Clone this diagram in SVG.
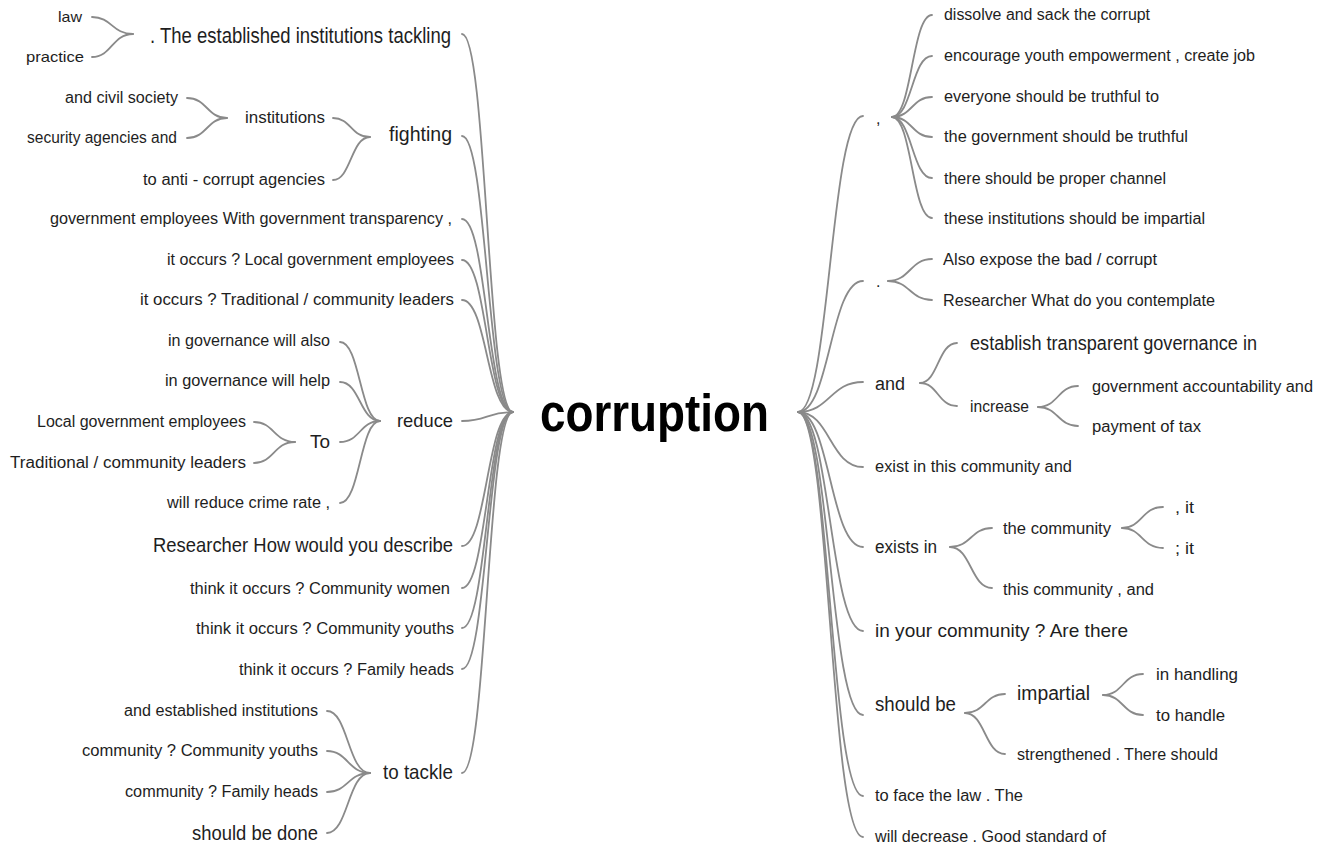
<svg xmlns="http://www.w3.org/2000/svg" width="1334" height="848" viewBox="0 0 1334 848">
  <style>
    text { font-family: "Liberation Sans", Arial, sans-serif; fill: #1e1e1e; }
    .s { font-size: 16px; }
    .m { font-size: 19px; }
    .l { font-size: 21px; }
    .root { font-size: 51px; font-weight: bold; fill: #000; }
    #links path { fill: none; stroke: #8a8a8a; stroke-width: 1.8; stroke-linecap: round; }
  </style>
  <rect width="1334" height="848" fill="#fff"/>

  <!-- connectors: cubic curves with horizontal tangents at both ends -->
  <g id="links">
    <!-- root to left branches -->
    <path d="M462,34 C487,34 487,412 513,412"/>
    <path d="M462,136 C487,136 487,412 513,412"/>
    <path d="M462,219 C487,219 487,412 513,412"/>
    <path d="M462,260 C487,260 487,412 513,412"/>
    <path d="M462,300 C487,300 487,412 513,412"/>
    <path d="M462,421 C487,421 487,412 513,412"/>
    <path d="M462,546 C487,546 487,412 513,412"/>
    <path d="M462,588 C487,588 487,412 513,412"/>
    <path d="M462,628 C487,628 487,412 513,412"/>
    <path d="M462,669 C487,669 487,412 513,412"/>
    <path d="M462,773 C487,773 487,412 513,412"/>
    <!-- left sub-branches -->
    <path d="M92,17 C112,17 112,34 133,34"/>
    <path d="M92,57 C112,57 112,34 133,34"/>
    <path d="M187,98 C207,98 207,118 227,118"/>
    <path d="M187,138 C207,138 207,118 227,118"/>
    <path d="M333,118 C351,118 351,137 370,137"/>
    <path d="M333,180 C351,180 351,137 370,137"/>
    <path d="M340,342 C360,342 360,421 380,421"/>
    <path d="M340,382 C360,382 360,421 380,421"/>
    <path d="M340,442 C360,442 360,421 380,421"/>
    <path d="M340,503 C360,503 360,421 380,421"/>
    <path d="M254,422 C274,422 274,442 295,442"/>
    <path d="M254,463 C274,463 274,442 295,442"/>
    <path d="M327,711 C348,711 348,773 370,773"/>
    <path d="M327,751 C348,751 348,773 370,773"/>
    <path d="M327,792 C348,792 348,773 370,773"/>
    <path d="M327,833 C348,833 348,773 370,773"/>
    <!-- root to right branches -->
    <path d="M798,412 C830,412 830,116 863,116"/>
    <path d="M798,412 C830,412 830,281 863,281"/>
    <path d="M798,412 C830,412 830,382 863,382"/>
    <path d="M798,412 C830,412 830,467 863,467"/>
    <path d="M798,412 C830,412 830,547 863,547"/>
    <path d="M798,412 C830,412 830,631 863,631"/>
    <path d="M798,412 C830,412 830,715 863,715"/>
    <path d="M798,412 C830,412 830,796 863,796"/>
    <path d="M798,412 C830,412 830,837 863,837"/>
    <!-- right sub-branches -->
    <path d="M892,117 C912,117 912,15 932,15"/>
    <path d="M892,117 C912,117 912,56 932,56"/>
    <path d="M892,117 C912,117 912,97 932,97"/>
    <path d="M892,117 C912,117 912,137 932,137"/>
    <path d="M892,117 C912,117 912,178 932,178"/>
    <path d="M892,117 C912,117 912,218 932,218"/>
    <path d="M888,281 C910,281 910,259 932,259"/>
    <path d="M888,281 C910,281 910,300 932,300"/>
    <path d="M920,383 C938,383 938,343 957,343"/>
    <path d="M920,383 C938,383 938,406 957,406"/>
    <path d="M1038,407 C1058,407 1058,386 1078,386"/>
    <path d="M1038,407 C1058,407 1058,426 1078,426"/>
    <path d="M950,547 C971,547 971,528 992,528"/>
    <path d="M950,547 C971,547 971,588 992,588"/>
    <path d="M1122,528 C1142,528 1142,507 1163,507"/>
    <path d="M1122,528 C1142,528 1142,548 1163,548"/>
    <path d="M965,713 C985,713 985,694 1005,694"/>
    <path d="M965,713 C985,713 985,754 1005,754"/>
    <path d="M1103,695 C1123,695 1123,674 1143,674"/>
    <path d="M1103,695 C1123,695 1123,715 1143,715"/>
  </g>

  <!-- central term -->
  <g id="node-root"><text class="root" x="540" y="431" textLength="229" lengthAdjust="spacingAndGlyphs">corruption</text></g>

  <!-- left side: preceding context -->
  <g id="node-law"><text class="s" style="font-size:15px" x="58" y="22" textLength="24" lengthAdjust="spacingAndGlyphs">law</text></g>
  <g id="node-practice"><text class="s" style="font-size:15px" x="26" y="62" textLength="58" lengthAdjust="spacingAndGlyphs">practice</text></g>
  <g id="node-tackling"><text class="l" style="font-size:22px" x="150" y="43" textLength="301" lengthAdjust="spacingAndGlyphs">. The established institutions tackling</text></g>
  <g id="node-civil-society"><text class="s" x="65" y="103" textLength="113" lengthAdjust="spacingAndGlyphs">and civil society</text></g>
  <g id="node-security"><text class="s" x="27" y="143" textLength="150" lengthAdjust="spacingAndGlyphs">security agencies and</text></g>
  <g id="node-institutions"><text class="s" x="245" y="123" textLength="80" lengthAdjust="spacingAndGlyphs">institutions</text></g>
  <g id="node-anti-corrupt"><text class="s" x="143" y="185" textLength="182" lengthAdjust="spacingAndGlyphs">to anti - corrupt agencies</text></g>
  <g id="node-fighting"><text class="l" x="389" y="141" textLength="63" lengthAdjust="spacingAndGlyphs">fighting</text></g>
  <g id="node-transparency"><text class="s" x="50" y="224" textLength="402" lengthAdjust="spacingAndGlyphs">government employees With government transparency ,</text></g>
  <g id="node-occurs-local"><text class="s" x="167" y="265" textLength="287" lengthAdjust="spacingAndGlyphs">it occurs ? Local government employees</text></g>
  <g id="node-occurs-traditional"><text class="s" x="140" y="305" textLength="314" lengthAdjust="spacingAndGlyphs">it occurs ? Traditional /  community leaders</text></g>
  <g id="node-will-also"><text class="s" x="168" y="346" textLength="162" lengthAdjust="spacingAndGlyphs">in governance will also</text></g>
  <g id="node-will-help"><text class="s" x="165" y="386" textLength="165" lengthAdjust="spacingAndGlyphs">in governance will help</text></g>
  <g id="node-local-employees"><text class="s" x="37" y="427" textLength="209" lengthAdjust="spacingAndGlyphs">Local government employees</text></g>
  <g id="node-to"><text class="s" style="font-size:18px" x="310" y="448" textLength="20" lengthAdjust="spacingAndGlyphs">To</text></g>
  <g id="node-traditional-leaders"><text class="s" x="10" y="468" textLength="236" lengthAdjust="spacingAndGlyphs">Traditional /  community leaders</text></g>
  <g id="node-crime-rate"><text class="s" x="167" y="508" textLength="163" lengthAdjust="spacingAndGlyphs">will reduce crime rate ,</text></g>
  <g id="node-reduce"><text class="m" x="397" y="427" textLength="56" lengthAdjust="spacingAndGlyphs">reduce</text></g>
  <g id="node-describe"><text class="l" x="153" y="552" textLength="300" lengthAdjust="spacingAndGlyphs">Researcher How would you describe</text></g>
  <g id="node-women"><text class="s" x="190" y="594" textLength="260" lengthAdjust="spacingAndGlyphs">think it occurs ? Community women</text></g>
  <g id="node-youths"><text class="s" x="196" y="634" textLength="258" lengthAdjust="spacingAndGlyphs">think it occurs ? Community youths</text></g>
  <g id="node-family"><text class="s" x="239" y="675" textLength="215" lengthAdjust="spacingAndGlyphs">think it occurs ? Family heads</text></g>
  <g id="node-established"><text class="s" x="124" y="716" textLength="194" lengthAdjust="spacingAndGlyphs">and established institutions</text></g>
  <g id="node-community-youths"><text class="s" x="82" y="756" textLength="236" lengthAdjust="spacingAndGlyphs">community ? Community youths</text></g>
  <g id="node-community-family"><text class="s" x="125" y="797" textLength="193" lengthAdjust="spacingAndGlyphs">community ? Family heads</text></g>
  <g id="node-done"><text class="m" style="font-size:20px" x="192" y="840" textLength="126" lengthAdjust="spacingAndGlyphs">should be done</text></g>
  <g id="node-to-tackle"><text class="l" x="383" y="779" textLength="70" lengthAdjust="spacingAndGlyphs">to tackle</text></g>

  <!-- right side: following context -->
  <g id="node-comma"><text class="s" x="876" y="124">,</text></g>
  <g id="node-dissolve"><text class="s" x="944" y="20" textLength="206" lengthAdjust="spacingAndGlyphs">dissolve and sack the corrupt</text></g>
  <g id="node-encourage"><text class="s" x="944" y="61" textLength="311" lengthAdjust="spacingAndGlyphs">encourage youth empowerment , create job</text></g>
  <g id="node-everyone"><text class="s" x="944" y="102" textLength="215" lengthAdjust="spacingAndGlyphs">everyone should be truthful to</text></g>
  <g id="node-gov-truthful"><text class="s" x="944" y="142" textLength="244" lengthAdjust="spacingAndGlyphs">the government should be truthful</text></g>
  <g id="node-channel"><text class="s" x="944" y="184" textLength="222" lengthAdjust="spacingAndGlyphs">there should be proper channel</text></g>
  <g id="node-impartial-inst"><text class="s" x="944" y="224" textLength="261" lengthAdjust="spacingAndGlyphs">these institutions should be impartial</text></g>
  <g id="node-period"><text class="s" x="876" y="287">.</text></g>
  <g id="node-expose"><text class="s" x="943" y="265" textLength="214" lengthAdjust="spacingAndGlyphs">Also expose the bad /  corrupt</text></g>
  <g id="node-contemplate"><text class="s" x="943" y="306" textLength="272" lengthAdjust="spacingAndGlyphs">Researcher What do you contemplate</text></g>
  <g id="node-and"><text class="s" style="font-size:18px" x="875" y="390" textLength="30" lengthAdjust="spacingAndGlyphs">and</text></g>
  <g id="node-establish"><text class="m" style="font-size:20px" x="970" y="350" textLength="287" lengthAdjust="spacingAndGlyphs">establish transparent governance in</text></g>
  <g id="node-increase"><text class="s" style="font-size:17px" x="970" y="412" textLength="59" lengthAdjust="spacingAndGlyphs">increase</text></g>
  <g id="node-accountability"><text class="s" x="1092" y="392" textLength="221" lengthAdjust="spacingAndGlyphs">government accountability and</text></g>
  <g id="node-tax"><text class="s" x="1092" y="432" textLength="109" lengthAdjust="spacingAndGlyphs">payment of tax</text></g>
  <g id="node-exist"><text class="s" x="875" y="472" textLength="197" lengthAdjust="spacingAndGlyphs">exist in this community and</text></g>
  <g id="node-exists-in"><text class="s" style="font-size:18px" x="875" y="553" textLength="62" lengthAdjust="spacingAndGlyphs">exists in</text></g>
  <g id="node-the-community"><text class="s" x="1003" y="534" textLength="108" lengthAdjust="spacingAndGlyphs">the community</text></g>
  <g id="node-comma-it"><text class="s" x="1175" y="513" textLength="19" lengthAdjust="spacingAndGlyphs">, it</text></g>
  <g id="node-semicolon-it"><text class="s" x="1175" y="554" textLength="19" lengthAdjust="spacingAndGlyphs">; it</text></g>
  <g id="node-this-community"><text class="s" x="1003" y="595" textLength="151" lengthAdjust="spacingAndGlyphs">this community , and</text></g>
  <g id="node-your-community"><text class="m" x="875" y="637" textLength="253" lengthAdjust="spacingAndGlyphs">in your community ? Are there</text></g>
  <g id="node-should-be"><text class="m" style="font-size:20px" x="875" y="711" textLength="81" lengthAdjust="spacingAndGlyphs">should be</text></g>
  <g id="node-impartial"><text class="m" style="font-size:20px" x="1017" y="700" textLength="73" lengthAdjust="spacingAndGlyphs">impartial</text></g>
  <g id="node-in-handling"><text class="s" x="1156" y="680" textLength="82" lengthAdjust="spacingAndGlyphs">in handling</text></g>
  <g id="node-to-handle"><text class="s" x="1156" y="721" textLength="69" lengthAdjust="spacingAndGlyphs">to handle</text></g>
  <g id="node-strengthened"><text class="s" x="1017" y="760" textLength="201" lengthAdjust="spacingAndGlyphs">strengthened . There should</text></g>
  <g id="node-face-law"><text class="s" x="875" y="801" textLength="148" lengthAdjust="spacingAndGlyphs">to face the law . The</text></g>
  <g id="node-decrease"><text class="s" x="875" y="842" textLength="231" lengthAdjust="spacingAndGlyphs">will decrease . Good standard of</text></g>
</svg>
